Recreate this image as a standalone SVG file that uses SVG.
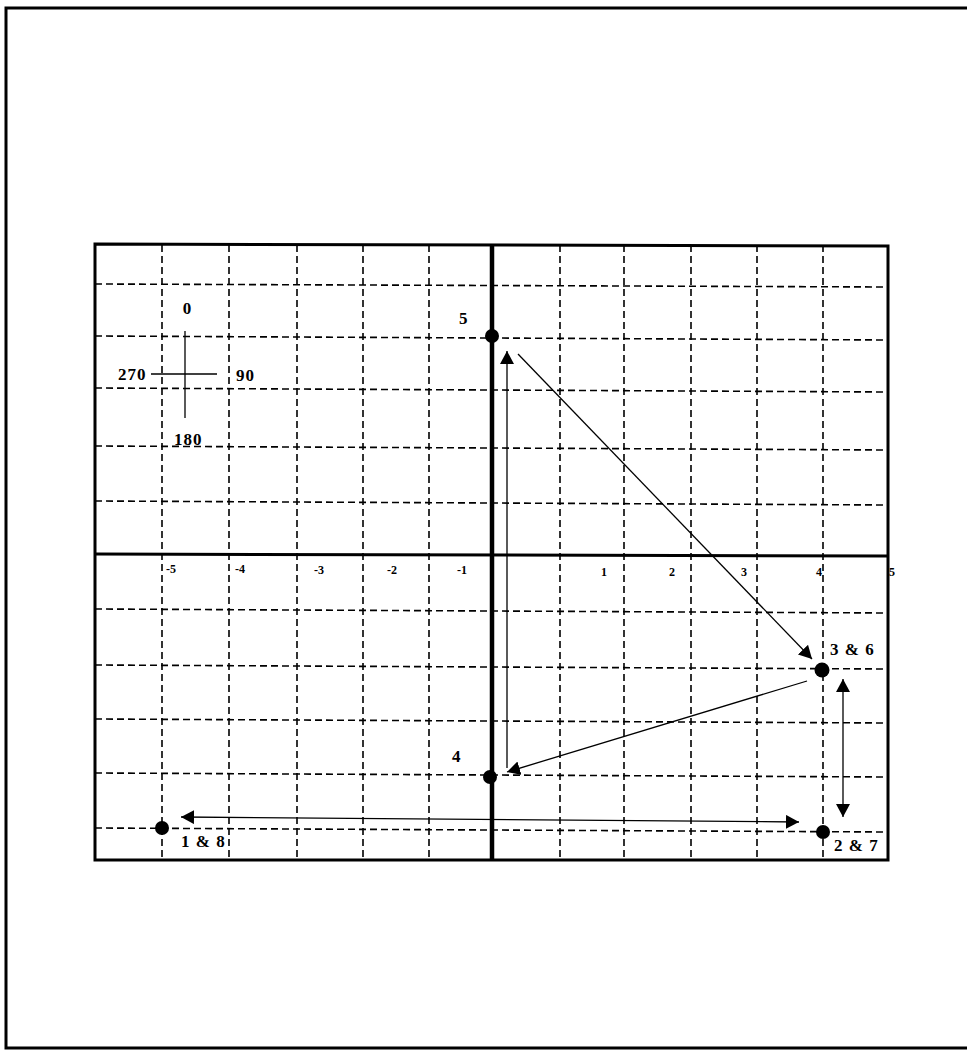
<svg xmlns="http://www.w3.org/2000/svg" width="967" height="1052" viewBox="0 0 967 1052">
<style>
.frame{fill:none;stroke:#000;stroke-width:3}
.grid{fill:none;stroke:#000;stroke-width:1.6;stroke-dasharray:7 4}
.axis{fill:none;stroke:#000}
.conn{fill:none;stroke:#000;stroke-width:1.3}
.t{font-family:"Liberation Serif",serif;font-weight:bold;font-size:17px;fill:#000}
.w{letter-spacing:1px}
.s{font-family:"Liberation Serif",serif;font-weight:bold;font-size:12px;fill:#000}
.dot{fill:#000}
</style>
<defs>
<marker id="ah" markerUnits="userSpaceOnUse" markerWidth="14" markerHeight="16" refX="13" refY="7" orient="auto-start-reverse">
<path d="M0,0 L13,7 L0,14 z" fill="#000"/>
</marker>
</defs>
<rect width="967" height="1052" fill="#fff"/>
<path class="frame" d="M967,8 H6 V1048 H967"/>
<g id="grid">
<g class="grid">
<line x1="162" y1="245" x2="162" y2="860"/>
<line x1="229" y1="245" x2="229" y2="860"/>
<line x1="297" y1="245" x2="297" y2="860"/>
<line x1="363" y1="245" x2="363" y2="860"/>
<line x1="429" y1="245" x2="429" y2="860"/>
<line x1="560" y1="245" x2="560" y2="860"/>
<line x1="624" y1="245" x2="624" y2="860"/>
<line x1="691" y1="245" x2="691" y2="860"/>
<line x1="757" y1="245" x2="757" y2="860"/>
<line x1="823" y1="245" x2="823" y2="860"/>
<line x1="95" y1="284" x2="888" y2="287"/>
<line x1="95" y1="336" x2="888" y2="340"/>
<line x1="95" y1="388" x2="888" y2="392"/>
<line x1="95" y1="446" x2="888" y2="450"/>
<line x1="95" y1="501" x2="888" y2="505"/>
<line x1="95" y1="609" x2="888" y2="613"/>
<line x1="95" y1="665" x2="888" y2="669"/>
<line x1="95" y1="719" x2="888" y2="723"/>
<line x1="95" y1="773" x2="888" y2="777"/>
<line x1="95" y1="828" x2="888" y2="832"/>
</g>
<line class="axis" x1="95" y1="554" x2="888" y2="556" stroke-width="3"/>
<line class="axis" x1="492" y1="244" x2="492" y2="860" stroke-width="4.5"/>
<path class="frame" d="M95,244 L888,246 L888,860 L95,860 Z"/>
</g>
<g id="axis-labels">
<text class="s" x="166" y="573">-5</text>
<text class="s" x="235" y="573">-4</text>
<text class="s" x="314" y="574">-3</text>
<text class="s" x="387" y="574">-2</text>
<text class="s" x="457" y="574">-1</text>
<text class="s" x="601" y="576">1</text>
<text class="s" x="669" y="576">2</text>
<text class="s" x="741" y="576">3</text>
<text class="s" x="816" y="576">4</text>
<text class="s" x="889" y="576">5</text>
</g>
<g id="compass">
<line class="conn" x1="185" y1="331" x2="185" y2="418"/>
<line class="conn" x1="151" y1="374" x2="217" y2="374"/>
<text class="t" x="187" y="314" text-anchor="middle">0</text>
<text class="t w" x="118" y="380">270</text>
<text class="t w" x="236" y="381">90</text>
<text class="t w" x="174" y="445">180</text>
</g>
<g id="connectors">
<line class="conn" x1="507" y1="768" x2="507" y2="351" marker-end="url(#ah)"/>
<line class="conn" x1="518" y1="354" x2="812" y2="659" marker-end="url(#ah)"/>
<line class="conn" x1="807" y1="681" x2="507" y2="772" marker-end="url(#ah)"/>
<line class="conn" x1="843" y1="679" x2="843" y2="817" marker-start="url(#ah)" marker-end="url(#ah)"/>
<line class="conn" x1="181" y1="817" x2="799" y2="822" marker-start="url(#ah)" marker-end="url(#ah)"/>
</g>
<g id="p5"><circle class="dot" cx="492" cy="336" r="7"/><text class="t" x="459" y="324">5</text></g>
<g id="p36"><circle class="dot" cx="822" cy="670" r="7.5"/><text class="t w" x="830" y="655">3 &amp; 6</text></g>
<g id="p4"><circle class="dot" cx="490" cy="777" r="7"/><text class="t" x="452" y="762">4</text></g>
<g id="p18"><circle class="dot" cx="162" cy="828" r="7"/><text class="t w" x="181" y="847">1 &amp; 8</text></g>
<g id="p27"><circle class="dot" cx="823" cy="832" r="7"/><text class="t w" x="834" y="851">2 &amp; 7</text></g>
</svg>
